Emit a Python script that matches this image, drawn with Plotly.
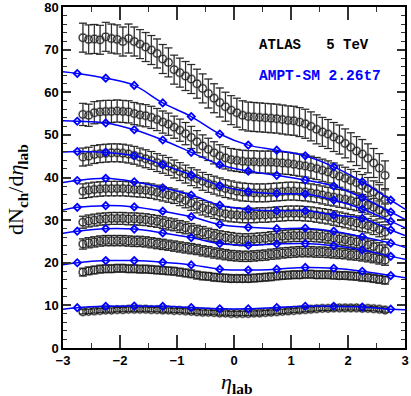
import plotly.graph_objects as go

# ---------------- data ----------------
eta_atlas = [-2.65, -2.55, -2.45, -2.35, -2.25, -2.15, -2.05, -1.95, -1.85, -1.75,
             -1.65, -1.55, -1.45, -1.35, -1.25, -1.15, -1.05, -0.95, -0.85, -0.75,
             -0.65, -0.55, -0.45, -0.35, -0.25, -0.15, -0.05, 0.05, 0.15, 0.25,
             0.35, 0.45, 0.55, 0.65, 0.75, 0.85, 0.95, 1.05, 1.15, 1.25,
             1.35, 1.45, 1.55, 1.65, 1.75, 1.85, 1.95, 2.05, 2.15, 2.25,
             2.35, 2.45, 2.55, 2.65]

atlas_1 = [72.8, 72.4, 72.5, 72.3, 73.0, 72.6, 72.4, 71.9, 72.6, 71.9,
           71.3, 70.6, 69.9, 69.1, 67.8, 67.0, 65.3, 64.6, 63.8, 63.1,
           62.0, 60.9, 59.7, 58.6, 57.6, 56.6, 55.8, 55.2, 54.6, 54.3,
           54.2, 54.1, 54.0, 53.9, 53.8, 53.6, 53.4, 53.3, 53.0, 52.6,
           52.0, 51.3, 50.7, 50.2, 49.5, 48.9, 48.0, 47.1, 46.2, 45.5,
           44.5, 43.4, 42.2, 40.5]
atlas_2 = [54.8, 54.6, 55.2, 55.4, 55.5, 55.5, 55.6, 55.5, 55.4, 55.0,
           54.7, 54.5, 54.1, 53.6, 53.0, 52.5, 51.8, 51.1, 50.3, 49.4,
           48.4, 47.4, 46.6, 45.8, 45.1, 44.6, 44.2, 44.0, 43.8, 43.7,
           43.7, 43.6, 43.6, 43.6, 43.5, 43.4, 43.3, 43.1, 42.9, 42.7,
           42.4, 42.1, 41.7, 41.3, 40.8, 40.3, 39.8, 39.3, 38.8, 38.1,
           37.4, 36.6, 35.7, 34.8]
atlas_3 = [44.8, 45.0, 45.4, 45.6, 45.7, 45.8, 45.8, 45.7, 45.5, 45.2,
           44.8, 44.4, 44.0, 43.5, 43.1, 42.6, 42.0, 41.4, 40.8, 40.2,
           39.7, 39.1, 38.6, 38.2, 37.8, 37.4, 37.1, 36.8, 36.6, 36.5,
           36.4, 36.4, 36.4, 36.5, 36.6, 36.7, 36.8, 36.8, 36.7, 36.6,
           36.4, 36.2, 35.9, 35.6, 35.4, 35.1, 34.9, 34.6, 34.3, 33.9,
           33.5, 33.0, 32.4, 31.7]
atlas_4 = [36.8, 37.0, 37.2, 37.3, 37.4, 37.4, 37.4, 37.4, 37.3, 37.2,
           37.1, 37.0, 36.8, 36.5, 36.2, 35.9, 35.6, 35.1, 34.6, 34.0,
           33.4, 32.9, 32.5, 32.1, 31.8, 31.5, 31.3, 31.2, 31.1, 31.1,
           31.1, 31.2, 31.2, 31.3, 31.4, 31.5, 31.6, 31.6, 31.6, 31.5,
           31.4, 31.2, 31.0, 30.8, 30.5, 30.2, 29.9, 29.6, 29.3, 29.0,
           28.7, 28.3, 27.8, 27.2]
atlas_5 = [29.5, 29.8, 30.0, 30.2, 30.3, 30.4, 30.4, 30.4, 30.3, 30.3,
           30.2, 30.1, 29.9, 29.7, 29.4, 29.1, 28.9, 28.5, 28.2, 27.8,
           27.4, 27.1, 26.7, 26.4, 26.1, 25.9, 25.7, 25.5, 25.4, 25.4,
           25.5, 25.6, 25.7, 25.9, 26.0, 26.2, 26.3, 26.4, 26.4, 26.4,
           26.4, 26.3, 26.2, 26.0, 25.8, 25.6, 25.4, 25.1, 24.9, 24.6,
           24.2, 23.8, 23.3, 22.8]
atlas_6 = [24.4, 24.7, 24.9, 25.1, 25.2, 25.2, 25.2, 25.2, 25.1, 25.0,
           25.0, 24.9, 24.7, 24.5, 24.3, 24.1, 23.9, 23.7, 23.5, 23.3,
           23.1, 22.8, 22.6, 22.3, 22.1, 21.9, 21.7, 21.6, 21.5, 21.5,
           21.6, 21.7, 21.8, 22.0, 22.1, 22.3, 22.4, 22.5, 22.6, 22.6,
           22.6, 22.5, 22.5, 22.4, 22.3, 22.2, 22.1, 21.9, 21.8, 21.6,
           21.4, 21.2, 20.9, 20.6]
atlas_7 = [17.8, 18.1, 18.3, 18.5, 18.6, 18.6, 18.7, 18.7, 18.6, 18.6,
           18.5, 18.5, 18.4, 18.3, 18.2, 18.1, 18.0, 17.8, 17.6, 17.4,
           17.1, 16.9, 16.8, 16.6, 16.5, 16.4, 16.3, 16.3, 16.3, 16.3,
           16.4, 16.5, 16.6, 16.7, 16.9, 17.0, 17.1, 17.2, 17.2, 17.3,
           17.3, 17.2, 17.2, 17.2, 17.1, 17.0, 17.0, 16.9, 16.8, 16.6,
           16.5, 16.3, 16.1, 15.9]
atlas_8 = [8.5, 8.6, 8.7, 8.8, 8.9, 8.9, 9.0, 9.0, 9.1, 9.1,
           9.1, 9.1, 9.0, 9.0, 8.9, 8.9, 8.8, 8.8, 8.7, 8.6,
           8.5, 8.4, 8.4, 8.3, 8.2, 8.2, 8.1, 8.1, 8.1, 8.1,
           8.2, 8.2, 8.3, 8.4, 8.5, 8.6, 8.7, 8.8, 8.9, 9.0,
           9.1, 9.2, 9.3, 9.3, 9.4, 9.4, 9.4, 9.4, 9.4, 9.3,
           9.3, 9.2, 9.1, 8.9]
atlas_err = [3.4, 2.6, 2.1, 1.7, 1.4, 1.2, 0.9, 0.5]

eta_ampt = [-3.0, -2.75, -2.25, -1.75, -1.25, -0.75, -0.25, 0.25, 0.75, 1.25, 1.75, 2.25, 2.75, 3.0]
ampt_1 = [64.8, 64.4, 63.3, 61.6, 57.5, 54.3, 50.2, 47.6, 46.4, 45.1, 42.5, 39.0, 34.7, 32.6]
ampt_2 = [53.3, 53.2, 52.8, 51.2, 48.8, 45.9, 43.0, 41.5, 40.5, 39.4, 38.0, 35.3, 31.9, 30.2]
ampt_3 = [46.0, 46.1, 45.9, 45.1, 43.0, 40.6, 38.1, 36.7, 36.2, 36.1, 34.7, 32.6, 29.7, 28.2]
ampt_4 = [38.8, 39.3, 39.8, 39.0, 37.6, 35.9, 33.5, 32.5, 32.2, 32.2, 31.2, 30.4, 27.7, 26.4]
ampt_5 = [32.4, 33.0, 33.4, 33.1, 32.1, 30.8, 29.0, 28.3, 28.0, 28.1, 27.4, 26.1, 24.6, 23.6]
ampt_6 = [26.9, 27.4, 28.0, 27.9, 27.0, 25.9, 24.5, 24.1, 24.4, 24.5, 24.0, 23.0, 21.5, 20.8]
ampt_7 = [19.5, 20.0, 20.5, 20.5, 20.1, 19.5, 18.5, 18.3, 18.5, 18.9, 18.7, 18.0, 17.0, 16.5]
ampt_8 = [9.1, 9.45, 9.77, 9.84, 9.77, 9.5, 9.2, 9.2, 9.5, 9.8, 9.8, 9.6, 9.1, 9.0]

atlas_series = [atlas_1, atlas_2, atlas_3, atlas_4, atlas_5, atlas_6, atlas_7, atlas_8]
ampt_series = [ampt_1, ampt_2, ampt_3, ampt_4, ampt_5, ampt_6, ampt_7, ampt_8]

x_ticks = [-3, -2, -1, 0, 1, 2, 3]
y_ticks = [0, 10, 20, 30, 40, 50, 60, 70, 80]
label_atlas = "ATLAS\u00a0\u00a0\u00a05 TeV"
label_ampt = "AMPT-SM 2.26t7"

# ---------------- figure ----------------
fig = go.Figure()

for vals, err in zip(atlas_series, atlas_err):
    errs = [err] * len(vals)
    # grey shadow layer
    fig.add_trace(go.Scatter(
        x=eta_atlas, y=vals, mode="markers",
        marker=dict(symbol="circle-open", size=8.5, color="#a0a0a0", line=dict(width=1.4)),
        error_y=dict(type="data", array=errs, color="#a0a0a0", thickness=1.4, width=4),
        showlegend=False, hoverinfo="skip"))
    # black layer
    fig.add_trace(go.Scatter(
        x=eta_atlas, y=vals, mode="markers",
        marker=dict(symbol="circle-open", size=7.5, color="#1a1a1a", line=dict(width=0.9)),
        error_y=dict(type="data", array=errs, color="#1a1a1a", thickness=0.9, width=4),
        showlegend=False))

for vals in ampt_series:
    fig.add_trace(go.Scatter(
        x=eta_ampt, y=vals, mode="lines",
        line=dict(color="#0000ff", width=1.5, shape="spline", smoothing=1.0),
        showlegend=False, hoverinfo="skip"))
    fig.add_trace(go.Scatter(
        x=eta_ampt[1:-1], y=vals[1:-1], mode="markers",
        marker=dict(symbol="diamond-open", size=5.5, color="#0000ff", line=dict(width=1.8)),
        showlegend=False))

tickfont = dict(family="Liberation Sans, Arial, sans-serif", size=13, color="black", weight="bold")

fig.update_layout(
    width=411, height=396,
    margin=dict(l=63, r=6, t=7, b=48, autoexpand=False),
    paper_bgcolor="white", plot_bgcolor="white",
    xaxis=dict(range=[-3, 3], tickvals=x_ticks, ticktext=[("\u2212" + str(-v)) if v < 0 else str(v) for v in x_ticks],
               ticks="inside", ticklen=13, tickwidth=1.5, tickcolor="#333333", automargin=False,
               ticklabeloverflow="allow",
               showline=True, linewidth=1.5, linecolor="black", mirror="allticks",
               showgrid=False, zeroline=False, tickfont=tickfont,
               minor=dict(dtick=0.5, ticks="inside", ticklen=5, tickwidth=1.2, tickcolor="#333333", showgrid=False)),
    yaxis=dict(range=[0, 80], tickvals=y_ticks, automargin=False,
               ticklabeloverflow="allow",
               ticks="inside", ticklen=8, tickwidth=1.5, tickcolor="#333333",
               showline=True, linewidth=1.5, linecolor="black", mirror="allticks",
               showgrid=False, zeroline=False, tickfont=tickfont,
               minor=dict(dtick=2, ticks="inside", ticklen=4, tickwidth=1.2, tickcolor="#333333", showgrid=False)),
    annotations=[
        dict(text="dN<sub><b>ch</b></sub>/d<i>\u03b7</i><sub><b>lab</b></sub>", xref="paper", yref="paper",
             x=(17 - 63) / 342, y=(348 - 190) / 341, showarrow=False, textangle=-90,
             xanchor="center", yanchor="middle",
             font=dict(family="Liberation Serif, DejaVu Serif, serif", size=22, color="black")),
        dict(text="<i>\u03b7</i><sub><b>lab</b></sub>", xref="paper", yref="paper",
             x=(236 - 63) / 342, y=(348 - 383) / 341, showarrow=False,
             xanchor="center", yanchor="middle",
             font=dict(family="Liberation Serif, DejaVu Serif, serif", size=22, color="black")),
        dict(text=label_atlas, xref="paper", yref="paper",
             x=(257 - 63) / 342, y=(348 - 45) / 341, showarrow=False,
             xanchor="left", yanchor="middle",
             font=dict(family="Liberation Mono, Courier New, monospace", size=14, color="black", weight="bold")),
        dict(text=label_ampt, xref="paper", yref="paper",
             x=(257 - 63) / 342, y=(348 - 76) / 341, showarrow=False,
             xanchor="left", yanchor="middle",
             font=dict(family="Liberation Mono, Courier New, monospace", size=14.5, color="#0000ff", weight="bold")),
    ],
)

fig.write_html("out.html", config={"displayModeBar": False},
               post_script="document.body.style.margin='0';document.body.style.padding='0';")
